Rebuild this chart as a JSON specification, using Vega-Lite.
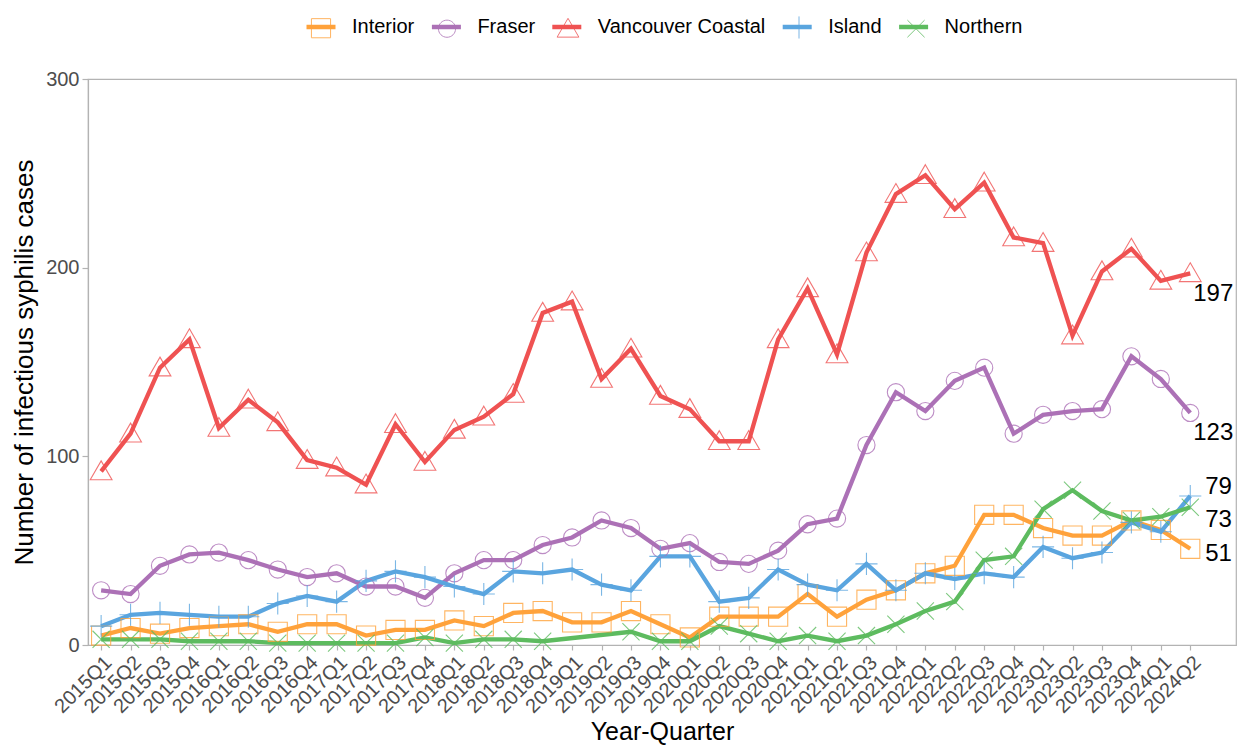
{
  "$schema": "https://vega.github.io/schema/vega-lite/v6.json",
  "width": 1148,
  "height": 566,
  "autosize": {"type": "none"},
  "padding": {"left": 88, "top": 79, "right": 2, "bottom": 104},
  "background": "white",
  "config": {
    "font": "Liberation Sans",
    "view": {"stroke": "#B3B3B3", "strokeWidth": 1.2},
    "axis": {
      "grid": false,
      "domainColor": "#B3B3B3",
      "domainWidth": 1.2,
      "tickColor": "#B3B3B3",
      "tickWidth": 1.2,
      "labelColor": "#4D4D4D",
      "titleColor": "#000000",
      "titleFontWeight": "normal",
      "titleFont": "Liberation Sans",
      "labelFont": "Liberation Sans"
    }
  },
  "data": {
    "values": [
      {"quarter": "2015Q1", "region": "Interior", "cases": 5},
      {"quarter": "2015Q2", "region": "Interior", "cases": 9},
      {"quarter": "2015Q3", "region": "Interior", "cases": 6},
      {"quarter": "2015Q4", "region": "Interior", "cases": 9},
      {"quarter": "2016Q1", "region": "Interior", "cases": 10},
      {"quarter": "2016Q2", "region": "Interior", "cases": 11},
      {"quarter": "2016Q3", "region": "Interior", "cases": 7},
      {"quarter": "2016Q4", "region": "Interior", "cases": 11},
      {"quarter": "2017Q1", "region": "Interior", "cases": 11},
      {"quarter": "2017Q2", "region": "Interior", "cases": 5},
      {"quarter": "2017Q3", "region": "Interior", "cases": 8},
      {"quarter": "2017Q4", "region": "Interior", "cases": 8},
      {"quarter": "2018Q1", "region": "Interior", "cases": 13},
      {"quarter": "2018Q2", "region": "Interior", "cases": 10},
      {"quarter": "2018Q3", "region": "Interior", "cases": 17},
      {"quarter": "2018Q4", "region": "Interior", "cases": 18},
      {"quarter": "2019Q1", "region": "Interior", "cases": 12},
      {"quarter": "2019Q2", "region": "Interior", "cases": 12},
      {"quarter": "2019Q3", "region": "Interior", "cases": 18},
      {"quarter": "2019Q4", "region": "Interior", "cases": 11},
      {"quarter": "2020Q1", "region": "Interior", "cases": 4},
      {"quarter": "2020Q2", "region": "Interior", "cases": 15},
      {"quarter": "2020Q3", "region": "Interior", "cases": 15},
      {"quarter": "2020Q4", "region": "Interior", "cases": 15},
      {"quarter": "2021Q1", "region": "Interior", "cases": 27},
      {"quarter": "2021Q2", "region": "Interior", "cases": 15},
      {"quarter": "2021Q3", "region": "Interior", "cases": 24},
      {"quarter": "2021Q4", "region": "Interior", "cases": 29},
      {"quarter": "2022Q1", "region": "Interior", "cases": 38},
      {"quarter": "2022Q2", "region": "Interior", "cases": 42},
      {"quarter": "2022Q3", "region": "Interior", "cases": 69},
      {"quarter": "2022Q4", "region": "Interior", "cases": 69},
      {"quarter": "2023Q1", "region": "Interior", "cases": 62},
      {"quarter": "2023Q2", "region": "Interior", "cases": 58},
      {"quarter": "2023Q3", "region": "Interior", "cases": 58},
      {"quarter": "2023Q4", "region": "Interior", "cases": 66},
      {"quarter": "2024Q1", "region": "Interior", "cases": 61},
      {"quarter": "2024Q2", "region": "Interior", "cases": 51},

      {"quarter": "2015Q1", "region": "Fraser", "cases": 29},
      {"quarter": "2015Q2", "region": "Fraser", "cases": 27},
      {"quarter": "2015Q3", "region": "Fraser", "cases": 42},
      {"quarter": "2015Q4", "region": "Fraser", "cases": 48},
      {"quarter": "2016Q1", "region": "Fraser", "cases": 49},
      {"quarter": "2016Q2", "region": "Fraser", "cases": 45},
      {"quarter": "2016Q3", "region": "Fraser", "cases": 40},
      {"quarter": "2016Q4", "region": "Fraser", "cases": 36},
      {"quarter": "2017Q1", "region": "Fraser", "cases": 38},
      {"quarter": "2017Q2", "region": "Fraser", "cases": 31},
      {"quarter": "2017Q3", "region": "Fraser", "cases": 31},
      {"quarter": "2017Q4", "region": "Fraser", "cases": 25},
      {"quarter": "2018Q1", "region": "Fraser", "cases": 38},
      {"quarter": "2018Q2", "region": "Fraser", "cases": 45},
      {"quarter": "2018Q3", "region": "Fraser", "cases": 45},
      {"quarter": "2018Q4", "region": "Fraser", "cases": 53},
      {"quarter": "2019Q1", "region": "Fraser", "cases": 57},
      {"quarter": "2019Q2", "region": "Fraser", "cases": 66},
      {"quarter": "2019Q3", "region": "Fraser", "cases": 62},
      {"quarter": "2019Q4", "region": "Fraser", "cases": 51},
      {"quarter": "2020Q1", "region": "Fraser", "cases": 54},
      {"quarter": "2020Q2", "region": "Fraser", "cases": 44},
      {"quarter": "2020Q3", "region": "Fraser", "cases": 43},
      {"quarter": "2020Q4", "region": "Fraser", "cases": 50},
      {"quarter": "2021Q1", "region": "Fraser", "cases": 64},
      {"quarter": "2021Q2", "region": "Fraser", "cases": 67},
      {"quarter": "2021Q3", "region": "Fraser", "cases": 106},
      {"quarter": "2021Q4", "region": "Fraser", "cases": 134},
      {"quarter": "2022Q1", "region": "Fraser", "cases": 124},
      {"quarter": "2022Q2", "region": "Fraser", "cases": 140},
      {"quarter": "2022Q3", "region": "Fraser", "cases": 147},
      {"quarter": "2022Q4", "region": "Fraser", "cases": 112},
      {"quarter": "2023Q1", "region": "Fraser", "cases": 122},
      {"quarter": "2023Q2", "region": "Fraser", "cases": 124},
      {"quarter": "2023Q3", "region": "Fraser", "cases": 125},
      {"quarter": "2023Q4", "region": "Fraser", "cases": 153},
      {"quarter": "2024Q1", "region": "Fraser", "cases": 141},
      {"quarter": "2024Q2", "region": "Fraser", "cases": 123},

      {"quarter": "2015Q1", "region": "Vancouver Coastal", "cases": 92},
      {"quarter": "2015Q2", "region": "Vancouver Coastal", "cases": 112},
      {"quarter": "2015Q3", "region": "Vancouver Coastal", "cases": 147},
      {"quarter": "2015Q4", "region": "Vancouver Coastal", "cases": 162},
      {"quarter": "2016Q1", "region": "Vancouver Coastal", "cases": 115},
      {"quarter": "2016Q2", "region": "Vancouver Coastal", "cases": 130},
      {"quarter": "2016Q3", "region": "Vancouver Coastal", "cases": 118},
      {"quarter": "2016Q4", "region": "Vancouver Coastal", "cases": 98},
      {"quarter": "2017Q1", "region": "Vancouver Coastal", "cases": 94},
      {"quarter": "2017Q2", "region": "Vancouver Coastal", "cases": 85},
      {"quarter": "2017Q3", "region": "Vancouver Coastal", "cases": 117},
      {"quarter": "2017Q4", "region": "Vancouver Coastal", "cases": 97},
      {"quarter": "2018Q1", "region": "Vancouver Coastal", "cases": 114},
      {"quarter": "2018Q2", "region": "Vancouver Coastal", "cases": 121},
      {"quarter": "2018Q3", "region": "Vancouver Coastal", "cases": 133},
      {"quarter": "2018Q4", "region": "Vancouver Coastal", "cases": 176},
      {"quarter": "2019Q1", "region": "Vancouver Coastal", "cases": 182},
      {"quarter": "2019Q2", "region": "Vancouver Coastal", "cases": 141},
      {"quarter": "2019Q3", "region": "Vancouver Coastal", "cases": 157},
      {"quarter": "2019Q4", "region": "Vancouver Coastal", "cases": 132},
      {"quarter": "2020Q1", "region": "Vancouver Coastal", "cases": 125},
      {"quarter": "2020Q2", "region": "Vancouver Coastal", "cases": 108},
      {"quarter": "2020Q3", "region": "Vancouver Coastal", "cases": 108},
      {"quarter": "2020Q4", "region": "Vancouver Coastal", "cases": 162},
      {"quarter": "2021Q1", "region": "Vancouver Coastal", "cases": 189},
      {"quarter": "2021Q2", "region": "Vancouver Coastal", "cases": 154},
      {"quarter": "2021Q3", "region": "Vancouver Coastal", "cases": 208},
      {"quarter": "2021Q4", "region": "Vancouver Coastal", "cases": 239},
      {"quarter": "2022Q1", "region": "Vancouver Coastal", "cases": 249},
      {"quarter": "2022Q2", "region": "Vancouver Coastal", "cases": 231},
      {"quarter": "2022Q3", "region": "Vancouver Coastal", "cases": 245},
      {"quarter": "2022Q4", "region": "Vancouver Coastal", "cases": 216},
      {"quarter": "2023Q1", "region": "Vancouver Coastal", "cases": 213},
      {"quarter": "2023Q2", "region": "Vancouver Coastal", "cases": 164},
      {"quarter": "2023Q3", "region": "Vancouver Coastal", "cases": 198},
      {"quarter": "2023Q4", "region": "Vancouver Coastal", "cases": 210},
      {"quarter": "2024Q1", "region": "Vancouver Coastal", "cases": 193},
      {"quarter": "2024Q2", "region": "Vancouver Coastal", "cases": 197},

      {"quarter": "2015Q1", "region": "Island", "cases": 10},
      {"quarter": "2015Q2", "region": "Island", "cases": 16},
      {"quarter": "2015Q3", "region": "Island", "cases": 17},
      {"quarter": "2015Q4", "region": "Island", "cases": 16},
      {"quarter": "2016Q1", "region": "Island", "cases": 15},
      {"quarter": "2016Q2", "region": "Island", "cases": 15},
      {"quarter": "2016Q3", "region": "Island", "cases": 22},
      {"quarter": "2016Q4", "region": "Island", "cases": 26},
      {"quarter": "2017Q1", "region": "Island", "cases": 23},
      {"quarter": "2017Q2", "region": "Island", "cases": 34},
      {"quarter": "2017Q3", "region": "Island", "cases": 39},
      {"quarter": "2017Q4", "region": "Island", "cases": 36},
      {"quarter": "2018Q1", "region": "Island", "cases": 31},
      {"quarter": "2018Q2", "region": "Island", "cases": 27},
      {"quarter": "2018Q3", "region": "Island", "cases": 39},
      {"quarter": "2018Q4", "region": "Island", "cases": 38},
      {"quarter": "2019Q1", "region": "Island", "cases": 40},
      {"quarter": "2019Q2", "region": "Island", "cases": 32},
      {"quarter": "2019Q3", "region": "Island", "cases": 29},
      {"quarter": "2019Q4", "region": "Island", "cases": 47},
      {"quarter": "2020Q1", "region": "Island", "cases": 47},
      {"quarter": "2020Q2", "region": "Island", "cases": 23},
      {"quarter": "2020Q3", "region": "Island", "cases": 25},
      {"quarter": "2020Q4", "region": "Island", "cases": 40},
      {"quarter": "2021Q1", "region": "Island", "cases": 32},
      {"quarter": "2021Q2", "region": "Island", "cases": 29},
      {"quarter": "2021Q3", "region": "Island", "cases": 43},
      {"quarter": "2021Q4", "region": "Island", "cases": 29},
      {"quarter": "2022Q1", "region": "Island", "cases": 38},
      {"quarter": "2022Q2", "region": "Island", "cases": 35},
      {"quarter": "2022Q3", "region": "Island", "cases": 38},
      {"quarter": "2022Q4", "region": "Island", "cases": 36},
      {"quarter": "2023Q1", "region": "Island", "cases": 52},
      {"quarter": "2023Q2", "region": "Island", "cases": 46},
      {"quarter": "2023Q3", "region": "Island", "cases": 49},
      {"quarter": "2023Q4", "region": "Island", "cases": 65},
      {"quarter": "2024Q1", "region": "Island", "cases": 60},
      {"quarter": "2024Q2", "region": "Island", "cases": 79},

      {"quarter": "2015Q1", "region": "Northern", "cases": 3},
      {"quarter": "2015Q2", "region": "Northern", "cases": 3},
      {"quarter": "2015Q3", "region": "Northern", "cases": 3},
      {"quarter": "2015Q4", "region": "Northern", "cases": 2},
      {"quarter": "2016Q1", "region": "Northern", "cases": 2},
      {"quarter": "2016Q2", "region": "Northern", "cases": 2},
      {"quarter": "2016Q3", "region": "Northern", "cases": 1},
      {"quarter": "2016Q4", "region": "Northern", "cases": 1},
      {"quarter": "2017Q1", "region": "Northern", "cases": 1},
      {"quarter": "2017Q2", "region": "Northern", "cases": 1},
      {"quarter": "2017Q3", "region": "Northern", "cases": 1},
      {"quarter": "2017Q4", "region": "Northern", "cases": 4},
      {"quarter": "2018Q1", "region": "Northern", "cases": 1},
      {"quarter": "2018Q2", "region": "Northern", "cases": 3},
      {"quarter": "2018Q3", "region": "Northern", "cases": 3},
      {"quarter": "2018Q4", "region": "Northern", "cases": 2},
      {"quarter": "2019Q3", "region": "Northern", "cases": 7},
      {"quarter": "2019Q4", "region": "Northern", "cases": 2},
      {"quarter": "2020Q1", "region": "Northern", "cases": 2},
      {"quarter": "2020Q2", "region": "Northern", "cases": 10},
      {"quarter": "2020Q3", "region": "Northern", "cases": 6},
      {"quarter": "2020Q4", "region": "Northern", "cases": 2},
      {"quarter": "2021Q1", "region": "Northern", "cases": 5},
      {"quarter": "2021Q2", "region": "Northern", "cases": 2},
      {"quarter": "2021Q3", "region": "Northern", "cases": 5},
      {"quarter": "2021Q4", "region": "Northern", "cases": 11},
      {"quarter": "2022Q1", "region": "Northern", "cases": 18},
      {"quarter": "2022Q2", "region": "Northern", "cases": 23},
      {"quarter": "2022Q3", "region": "Northern", "cases": 45},
      {"quarter": "2022Q4", "region": "Northern", "cases": 47},
      {"quarter": "2023Q1", "region": "Northern", "cases": 72},
      {"quarter": "2023Q2", "region": "Northern", "cases": 82},
      {"quarter": "2023Q3", "region": "Northern", "cases": 71},
      {"quarter": "2023Q4", "region": "Northern", "cases": 66},
      {"quarter": "2024Q1", "region": "Northern", "cases": 68},
      {"quarter": "2024Q2", "region": "Northern", "cases": 73}
    ]
  },
  "encoding": {
    "x": {
      "field": "quarter",
      "type": "ordinal",
      "scale": {"type": "point", "padding": 1.103, "align": 0.223},
      "axis": {
        "title": "Year-Quarter",
        "labelAngle": -45,
        "labelFontSize": 20,
        "tickSize": 5,
        "labelPadding": 2,
        "titleFontSize": 25,
        "titlePadding": 3
      }
    },
    "y": {
      "field": "cases",
      "type": "quantitative",
      "scale": {"domain": [0, 300], "nice": false},
      "axis": {
        "title": "Number of infectious syphilis cases",
        "values": [0, 100, 200, 300],
        "labelFontSize": 20,
        "tickSize": 6,
        "labelPadding": 3,
        "titleFontSize": 26,
        "titlePadding": 8
      }
    }
  },
  "layer": [
    {
      "mark": {"type": "line", "strokeWidth": 4.3},
      "encoding": {
        "color": {
          "field": "region",
          "type": "nominal",
          "sort": ["Interior", "Fraser", "Vancouver Coastal", "Island", "Northern"],
          "scale": {"range": ["#FFA23B", "#AC71B6", "#EF5252", "#5AA5DF", "#5DBB5F"]},
          "legend": {
            "title": null,
            "orient": "none",
            "legendX": 216,
            "legendY": -69,
            "direction": "horizontal",
            "columns": 5,
            "symbolType": "stroke",
            "symbolSize": 841,
            "symbolStrokeWidth": 4.5,
            "labelFontSize": 20,
            "labelFont": "Liberation Sans",
            "labelColor": "#000000",
            "labelOffset": 14,
            "columnPadding": 7.4,
            "padding": 0,
            "labelLimit": 400
          }
        }
      }
    },
    {
      "mark": {"type": "point", "filled": false, "size": 1089, "strokeWidth": 1.1, "opacity": 1, "strokeOpacity": 0.8},
      "encoding": {
        "stroke": {
          "field": "region",
          "type": "nominal",
          "scale": {
            "domain": ["Interior", "Fraser", "Vancouver Coastal", "Island", "Northern"],
            "range": ["#FFA23B", "#AC71B6", "#EF5252", "#5AA5DF", "#5DBB5F"]
          },
          "legend": {
            "title": null,
            "orient": "none",
            "legendX": 216,
            "legendY": -69,
            "direction": "horizontal",
            "columns": 5,
            "symbolSize": 1089,
            "symbolStrokeWidth": 1,
            "symbolOpacity": 0.8,
            "labelFontSize": 20,
            "labelFont": "Liberation Sans",
            "labelOpacity": 0,
            "labelOffset": 14,
            "columnPadding": 15,
            "padding": 0,
            "labelLimit": 400
          }
        },
        "shape": {
          "field": "region",
          "type": "nominal",
          "scale": {
            "domain": ["Interior", "Fraser", "Vancouver Coastal", "Island", "Northern"],
            "range": [
              "M-0.58,-0.58H0.58V0.58H-0.58Z",
              "M0.52,0A0.52,0.52,0,1,1,-0.52,0A0.52,0.52,0,1,1,0.52,0Z",
              "M0,-0.64L0.66,0.5L-0.66,0.5Z",
              "M-0.67,0H0.67M0,-0.67V0.67",
              "M-0.52,-0.52L0.52,0.52M-0.52,0.52L0.52,-0.52"
            ]
          },
          "legend": {
            "title": null,
            "orient": "none",
            "legendX": 216,
            "legendY": -69,
            "direction": "horizontal",
            "columns": 5,
            "symbolSize": 1089,
            "symbolStrokeWidth": 1,
            "symbolOpacity": 0.8,
            "labelFontSize": 20,
            "labelFont": "Liberation Sans",
            "labelOpacity": 0,
            "labelOffset": 14,
            "columnPadding": 15,
            "padding": 0,
            "labelLimit": 400
          }
        }
      }
    },
    {
      "transform": [{"filter": "datum.quarter == '2024Q2' && datum.region == 'Vancouver Coastal'"}],
      "mark": {"type": "text", "align": "left", "baseline": "middle", "dx": 3, "dy": 20.5, "fontSize": 24, "font": "Liberation Sans", "color": "#000000"},
      "encoding": {"text": {"field": "cases", "type": "quantitative"}}
    },
    {
      "transform": [{"filter": "datum.quarter == '2024Q2' && datum.region == 'Fraser'"}],
      "mark": {"type": "text", "align": "left", "baseline": "middle", "dx": 3, "dy": 20, "fontSize": 24, "font": "Liberation Sans", "color": "#000000"},
      "encoding": {"text": {"field": "cases", "type": "quantitative"}}
    },
    {
      "transform": [{"filter": "datum.quarter == '2024Q2' && datum.region == 'Island'"}],
      "mark": {"type": "text", "align": "left", "baseline": "middle", "dx": 15, "dy": -9, "fontSize": 24, "font": "Liberation Sans", "color": "#000000"},
      "encoding": {"text": {"field": "cases", "type": "quantitative"}}
    },
    {
      "transform": [{"filter": "datum.quarter == '2024Q2' && datum.region == 'Northern'"}],
      "mark": {"type": "text", "align": "left", "baseline": "middle", "dx": 15, "dy": 13, "fontSize": 24, "font": "Liberation Sans", "color": "#000000"},
      "encoding": {"text": {"field": "cases", "type": "quantitative"}}
    },
    {
      "transform": [{"filter": "datum.quarter == '2024Q2' && datum.region == 'Interior'"}],
      "mark": {"type": "text", "align": "left", "baseline": "middle", "dx": 15, "dy": 5, "fontSize": 24, "font": "Liberation Sans", "color": "#000000"},
      "encoding": {"text": {"field": "cases", "type": "quantitative"}}
    }
  ]
}
